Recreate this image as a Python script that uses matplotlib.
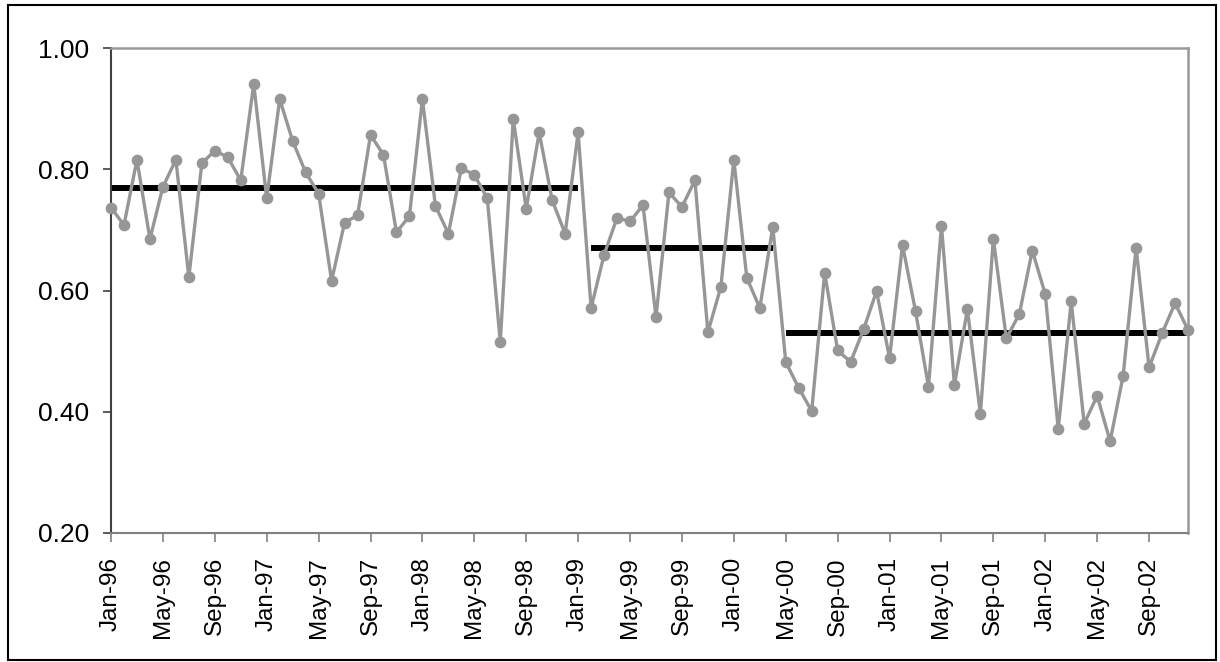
import matplotlib
matplotlib.use("Agg")
import matplotlib.pyplot as plt
from matplotlib.patches import Rectangle
import numpy as np

# ---- data ----
months = ["Jan", "Feb", "Mar", "Apr", "May", "Jun", "Jul", "Aug", "Sep", "Oct", "Nov", "Dec"]
years = ["96", "97", "98", "99", "00", "01", "02"]
categories = [f"{m}-{y}" for y in years for m in months]

values = [
    0.737, 0.708, 0.816, 0.685, 0.771, 0.816, 0.622, 0.810, 0.831, 0.820, 0.782, 0.941,  # 1996
    0.752, 0.916, 0.847, 0.795, 0.760, 0.616, 0.712, 0.724, 0.857, 0.824, 0.696, 0.723,  # 1997
    0.916, 0.740, 0.694, 0.802, 0.791, 0.752, 0.515, 0.883, 0.735, 0.861, 0.749, 0.694,  # 1998
    0.861, 0.571, 0.659, 0.720, 0.714, 0.741, 0.556, 0.762, 0.738, 0.782, 0.531, 0.606,  # 1999
    0.816, 0.621, 0.571, 0.705, 0.482, 0.439, 0.401, 0.629, 0.501, 0.482, 0.536, 0.599,  # 2000
    0.488, 0.675, 0.566, 0.441, 0.707, 0.444, 0.569, 0.396, 0.685, 0.521, 0.561, 0.666,  # 2001
    0.594, 0.371, 0.582, 0.380, 0.426, 0.351, 0.459, 0.671, 0.473, 0.529, 0.579, 0.535,  # 2002
]

seg_start = [0, 37, 52]
seg_end = [36, 51, 83]
seg_mean = [0.770, 0.670, 0.529]

y_ticks = [0.20, 0.40, 0.60, 0.80, 1.00]
x_tick_step = 4

# ---- figure ----
W, H = 1220, 662
fig = plt.figure(figsize=(W / 100, H / 100), dpi=100)
plt.rcParams['font.family'] = ['Liberation Sans', 'DejaVu Sans']

ax = fig.add_axes([111 / W, 1 - 532.7 / H, (1188 - 111) / W, (532.7 - 48.3) / H])

x = np.arange(len(values))

# mean level lines
for s, e, m in zip(seg_start, seg_end, seg_mean):
    ax.plot([x[s], x[e]], [m, m], color="black", lw=4.3, solid_capstyle="butt", zorder=2)

ax.plot(x, values, color="#969696", lw=2.4, marker="o", markersize=7.4,
        markerfacecolor="#969696", markeredgecolor="#969696", zorder=3, clip_on=False)

ax.set_xlim(0, len(values) - 1)
ax.set_ylim(0.2, 1.0)

ax.set_yticks(y_ticks)
ax.set_yticklabels([f"{v:.2f}" for v in y_ticks])
ax.set_xticks(x[::x_tick_step])
ax.set_xticklabels(categories[::x_tick_step], rotation=90)

ax.tick_params(axis="y", direction="out", length=6, width=1.2, color="#404040",
               labelsize=19, pad=10, labelcolor="black")
ax.tick_params(axis="x", direction="out", length=6.5, width=1.2, color="#808080",
               labelsize=17.5, pad=11, labelcolor="black")

ax.spines["left"].set_color("#404040")
ax.spines["left"].set_linewidth(1.5)
ax.spines["bottom"].set_color("#808080")
ax.spines["bottom"].set_linewidth(1.5)
for sp in ("top", "right"):
    ax.spines[sp].set_color("#999999")
    ax.spines[sp].set_linewidth(1.8)

# outer chart border
fig.patches.append(Rectangle((8 / W, 2 / H), (1216 - 8) / W, (657 - 2) / H,
                             transform=fig.transFigure, fill=False,
                             edgecolor="black", lw=1.5))

fig.savefig("out.png", dpi=100)
